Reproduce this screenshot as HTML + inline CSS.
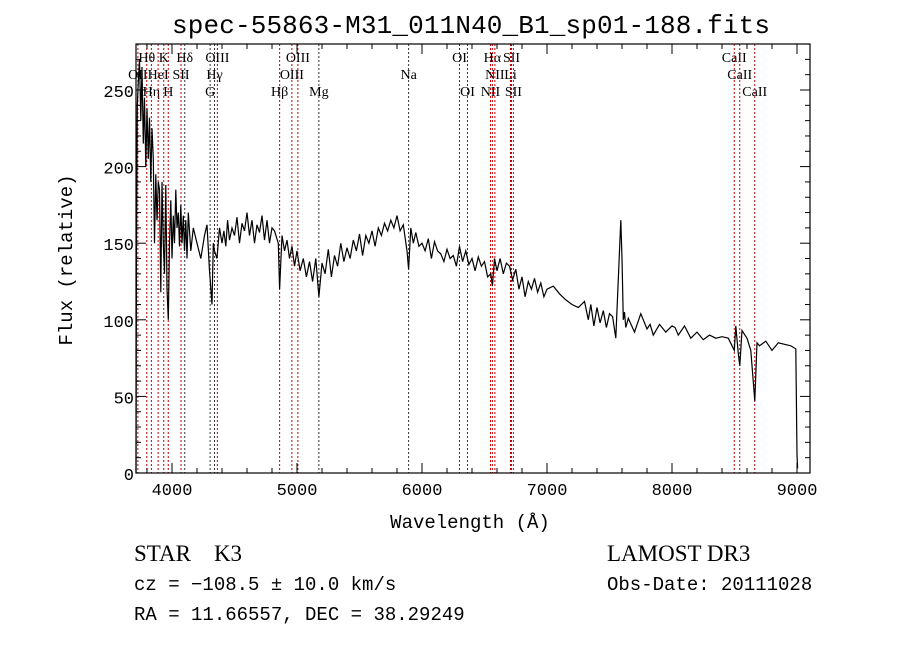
<!DOCTYPE html>
<html><head><meta charset="utf-8"><style>
body{margin:0;background:#fff;width:900px;height:649px;overflow:hidden}
svg{display:block}
.t{font-family:"Liberation Serif",serif;fill:#000}
.m{font-family:"Liberation Mono",monospace;fill:#000}
</style></head><body>
<svg id="chart" width="900" height="649">
<text class="m" x="471" y="33" font-size="26" text-anchor="middle" textLength="598">spec-55863-M31_011N40_B1_sp01-188.fits</text>
<g id="lines"></g>
<g id="axes"></g>
<path id="spec" fill="none" stroke="#000" stroke-width="1.2"/>
<text class="m" x="470" y="528" font-size="19" text-anchor="middle">Wavelength (Å)</text>
<text class="m" x="0" y="0" font-size="19" text-anchor="middle" transform="translate(72,260) rotate(-90)">Flux (relative)</text>
<text class="t" x="134" y="561" font-size="23">STAR&#160;&#160;&#160;&#160;K3</text>
<text class="t" x="607" y="561" font-size="23">LAMOST DR3</text>
<text class="m" x="134" y="590" font-size="19">cz = −108.5 ± 10.0 km/s</text>
<text class="m" x="607" y="590" font-size="19">Obs-Date: 20111028</text>
<text class="m" x="134" y="620" font-size="19">RA =  11.66557, DEC =  38.29249</text>
</svg>
<script>
const xTicks=[4000,5000,6000,7000,8000,9000];
const yTicks=[0,50,100,150,200,250];
const lineWaves=[3727,3798,3835,3889,3934,3970,4072,4102,4305,4340,4363,4861,4959,5007,5175,5893,6300,6364,6548,6563,6583,6708,6716,6731,8498,8542,8662];
const lineNames=["OII","Hθ","Hη","HeI","K","H","SII","Hδ","G","Hγ","OIII","Hβ","OIII","OIII","Mg","Na","OI","OI","NII","Hα","NII","Li","SII","SII","CaII","CaII","CaII"];
const lineRows=[1,0,2,1,0,2,1,0,2,1,0,2,1,0,2,1,0,2,2,0,1,1,0,2,0,1,2];
const waves=[3712,3716,3722,3730,3740,3750,3760,3770,3780,3790,3800,3810,3820,3830,3840,3850,3860,3870,3880,3890,3900,3910,3920,3930,3940,3950,3960,3970,3980,3990,4000,4010,4020,4030,4040,4050,4060,4070,4080,4090,4100,4110,4120,4130,4150,4170,4200,4230,4260,4280,4300,4320,4330,4340,4360,4380,4400,4415,4430,4445,4460,4480,4500,4520,4540,4560,4580,4600,4620,4640,4660,4680,4700,4720,4740,4760,4780,4800,4820,4850,4861,4880,4900,4920,4940,4960,4980,5000,5025,5050,5075,5100,5125,5150,5175,5200,5225,5250,5275,5300,5325,5350,5375,5400,5425,5450,5475,5500,5525,5550,5575,5600,5625,5650,5675,5700,5725,5750,5775,5800,5825,5850,5880,5893,5910,5930,5950,5975,6000,6025,6050,6075,6100,6125,6150,6175,6200,6225,6250,6275,6300,6325,6350,6375,6400,6425,6450,6475,6500,6525,6550,6563,6580,6600,6625,6650,6675,6700,6725,6750,6775,6800,6825,6850,6875,6900,6925,6950,6975,7000,7050,7100,7150,7200,7250,7300,7330,7350,7375,7400,7425,7450,7475,7500,7525,7550,7590,7600,7610,7620,7630,7650,7700,7750,7800,7825,7850,7900,7950,8000,8025,8050,8100,8150,8200,8250,8300,8350,8400,8450,8498,8510,8530,8542,8560,8600,8630,8662,8680,8700,8750,8800,8850,8900,8950,8990,9000,9005];
const flux=[0,150,240,255,270,230,265,215,245,200,238,205,232,190,225,205,150,195,165,190,185,118,190,150,130,188,120,100,150,178,140,168,150,185,160,170,148,175,150,168,145,165,140,170,145,160,150,140,155,162,132,110,150,145,140,160,150,158,148,165,152,160,155,167,150,163,158,170,155,165,150,162,157,168,152,165,150,160,158,150,120,155,145,152,140,148,135,145,132,140,128,138,125,140,115,137,130,146,128,142,135,150,138,147,140,152,145,156,142,155,150,158,148,160,155,163,158,165,160,168,158,162,145,133,160,150,157,148,150,145,153,140,151,145,143,138,146,140,142,135,148,138,145,136,140,132,141,135,138,128,130,122,140,132,140,130,137,135,126,133,120,128,115,125,120,127,118,124,115,120,122,117,113,110,108,112,100,110,96,108,98,106,95,104,102,88,165,140,100,105,95,101,92,104,94,97,90,97,92,96,95,90,96,88,92,87,90,88,89,88,80,96,78,70,93,88,80,47,85,83,86,80,85,84,83,81,12,3];
const X=l=>172+(l-4000)*0.125, Y=f=>473-f*1.532;
const NS="http://www.w3.org/2000/svg";
const L=136,R=810,T=44,B=473;
const ax=document.getElementById('axes'), lg=document.getElementById('lines');
function mk(tag,at,par){const e=document.createElementNS(NS,tag);for(const k in at)e.setAttribute(k,at[k]);par.appendChild(e);return e;}
const frame=mk('rect',{x:L,y:T,width:R-L,height:B-T,fill:'none',stroke:'#000','stroke-width':1.2},ax);


for(let l=3800;l<=9100;l+=200){const x=X(l);const maj=l%1000===0;const len=maj?10:5;
 mk('line',{x1:x,x2:x,y1:B,y2:B-len,stroke:'#000'},ax);mk('line',{x1:x,x2:x,y1:T,y2:T+len,stroke:'#000'},ax);}
for(let v=0;v<=280;v+=10){const y=Y(v);const len=v%50===0?10:5;
 mk('line',{x1:L,x2:L+len,y1:y,y2:y,stroke:'#000'},ax);mk('line',{x1:R,x2:R-len,y1:y,y2:y,stroke:'#000'},ax);}
xTicks.forEach(v=>{const t=mk('text',{x:X(v),y:B+22,'font-size':17,'text-anchor':'middle',class:'m'},ax);t.textContent=v;
 
 });
yTicks.forEach(v=>{const t=mk('text',{x:L-2,y:Y(v)+7,'font-size':17,'text-anchor':'end',class:'m'},ax);t.textContent=v;
 
 });
lineWaves.forEach((w,i)=>{const x=X(w);
 const blk=['Na','G','Mg','Hγ','Hδ'].includes(lineNames[i]);
 const ln=mk('line',{x1:x,x2:x,y1:T,y2:B,stroke:blk?'#333':'#c00000','stroke-width':1,'stroke-dasharray':'2,2'},lg);
 
 
 const t=mk('text',{x:x,y:62+lineRows[i]*17,'font-size':14,'text-anchor':'middle',class:'t'},lg);t.textContent=lineNames[i];
 
 });
let d='';waves.forEach((w,i)=>{d+=(i?'L':'M')+X(w).toFixed(1)+','+Y(flux[i]).toFixed(1);});
document.getElementById('spec').setAttribute('d',d);
</script>
</body></html>
